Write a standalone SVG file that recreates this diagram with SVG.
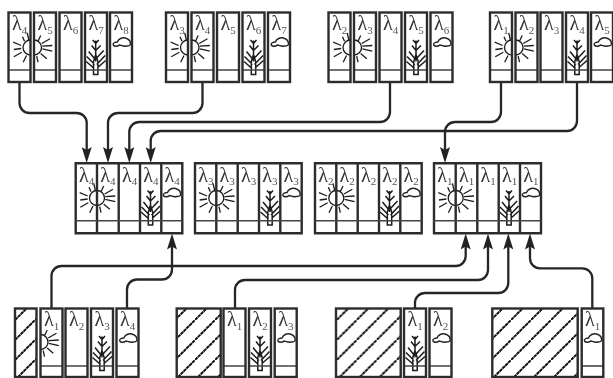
<svg xmlns="http://www.w3.org/2000/svg" width="613" height="378" viewBox="0 0 613 378">
<style>
.c{fill:none;stroke:#2c2c2c;stroke-width:2.4}
.d{fill:none;stroke:#444;stroke-width:1.6}
.i{fill:none;stroke:#1c1c1c;stroke-width:1.3}
.tr{fill:none;stroke:#1c1c1c;stroke-width:1.5}
.cl{fill:#fff;stroke:#222;stroke-width:1.4}
.k{fill:none;stroke:#262626;stroke-width:2.3;marker-end:url(#a)}
text{font-family:"Liberation Serif","Times New Roman",serif;font-size:20px;fill:#333;filter:grayscale(1)}
tspan{font-size:11px;fill:#555}
</style>
<defs>
<marker id="a" markerUnits="userSpaceOnUse" viewBox="0 0 16 10" refX="8" refY="5" markerWidth="16" markerHeight="10" orient="auto"><path d="M16,5 L0,0 L3,5 L0,10 Z" fill="#222"/></marker>
<pattern id="h" patternUnits="userSpaceOnUse" width="20" height="20"><path d="M0,20 L20,0" stroke="#111" stroke-width="2" stroke-dasharray="3.6 .44" fill="none"/></pattern>
<pattern id="h1" href="#h" patternTransform="translate(15,0)"/>
<pattern id="h2" href="#h" patternTransform="translate(15,0)"/>
<pattern id="h3" href="#h" patternTransform="translate(16.7,0)"/>
<pattern id="h4" href="#h" patternTransform="translate(11,0)"/>
<path id="sl" class="i" d="M0,-7.5A7.5,7.5 0 0 0 0,7.5M-8,-10.7L-6,-6.3M-17.3,-5.3L-9.3,-2M-16.7,2L-9.3,1M-16.7,9.3L-8.7,4.7M-7.3,14.7L-4,8M-3.3,-14.7L-1.7,-8"/>
<path id="sr" class="i" d="M0,-7.5A7.5,7.5 0 0 1 0,7.5M4,14.7L2.7,8.7M12.7,11.3L6.7,6M18.3,3.7L8.3,1.3M18.3,-2L8.3,-1.3M16,-8.7L7.7,-4M6.7,-12L4,-6.3"/>
<path id="t" class="tr" d="M0,0V21M-2.2,21V34H2.2V21M-2.2,21L0,14L2.2,21M-3,-.5L0,3M3,-.5L0,3M-4,5L0,10M5,5L0,10M-7,11L-.5,19M8,10L.5,18M-9,16L-1,24M9.5,15L1,24M-9.5,21L-1.5,28M10,20L2,27"/>
<path id="o" class="cl" d="M-8,3C-9,1-6,0-4,0C-3,-3 1,-5 4,-4C7,-3 9,-1 9,1C10,3 8,4 5,4C3,5-1,3-2,3C-4,5-7,4.5-8,3Z"/>
</defs>

<g id="connectors">
<path class="k" d="M19.5,82V103A10,10 0 0 0 29.5,113H76.7A10,10 0 0 1 86.7,123V155"/>
<path class="k" d="M202.5,82V103A10,10 0 0 1 192.5,113H118A10,10 0 0 0 108,123V155"/>
<path class="k" d="M390,82V112A10,10 0 0 1 380,122H139.3A10,10 0 0 0 129.3,132V155"/>
<path class="k" d="M577,82V121A10,10 0 0 1 567,131H160.7A10,10 0 0 0 150.7,141V155"/>
<path class="k" d="M501,82V112A10,10 0 0 1 491,122H455A10,10 0 0 0 445,132V155"/>
<path class="k" d="M51.5,308V276A10,10 0 0 1 61.5,266H455.7A10,10 0 0 0 465.7,256V241.5"/>
<path class="k" d="M127,308V289.5A10,10 0 0 1 137,279.5H162A10,10 0 0 0 172,269.5V241.5"/>
<path class="k" d="M235,308V290A10,10 0 0 1 245,280H478A10,10 0 0 0 488,270V241.5"/>
<path class="k" d="M415,308V303A10,10 0 0 1 425,293H498.3A10,10 0 0 0 508.3,283V241.5"/>
<path class="k" d="M592.3,308V278.3A10,10 0 0 0 582.3,268.3H540A10,10 0 0 1 530,258.3V241.5"/>
</g>

<g id="top1">
<use href="#sl" x="30.5" y="47.5"/><use href="#sr" x="34" y="47.5"/><use href="#t" x="95.7" y="40.5"/><use href="#o" x="121.3" y="42"/>
<path class="d" d="M8.5,70H30.5M34,70H56M59.5,70H81.5M85,70H107M110,70H132"/>
<rect class="c" x="8.5" y="12.5" width="22" height="69.5"/><rect class="c" x="34" y="12.5" width="22" height="69.5"/><rect class="c" x="59.5" y="12.5" width="22" height="69.5"/><rect class="c" x="85" y="12.5" width="22" height="69.5"/><rect class="c" x="110" y="12.5" width="22" height="69.5"/>
<text x="12" y="30">λ<tspan dy="4">4</tspan></text><text x="37.5" y="30">λ<tspan dy="4">5</tspan></text><text x="63" y="30">λ<tspan dy="4">6</tspan></text><text x="88.5" y="30">λ<tspan dy="4">7</tspan></text><text x="113.5" y="30">λ<tspan dy="4">8</tspan></text>
</g>

<g id="top2">
<use href="#sl" x="188" y="47.5"/><use href="#sr" x="191.5" y="47.5"/><use href="#t" x="253.5" y="40.5"/><use href="#o" x="279.3" y="42"/>
<path class="d" d="M166,70H188M191.5,70H213.5M217,70H239M242.5,70H264.5M268,70H290"/>
<rect class="c" x="166" y="12.5" width="22" height="69.5"/><rect class="c" x="191.5" y="12.5" width="22" height="69.5"/><rect class="c" x="217" y="12.5" width="22" height="69.5"/><rect class="c" x="242.5" y="12.5" width="22" height="69.5"/><rect class="c" x="268" y="12.5" width="22" height="69.5"/>
<text x="169.5" y="30">λ<tspan dy="4">3</tspan></text><text x="195" y="30">λ<tspan dy="4">4</tspan></text><text x="220.5" y="30">λ<tspan dy="4">5</tspan></text><text x="246" y="30">λ<tspan dy="4">6</tspan></text><text x="271.5" y="30">λ<tspan dy="4">7</tspan></text>
</g>

<g id="top3">
<use href="#sl" x="350.5" y="47.5"/><use href="#sr" x="354" y="47.5"/><use href="#t" x="416" y="40.5"/><use href="#o" x="441.8" y="42"/>
<path class="d" d="M328.5,70H350.5M354,70H376M379.5,70H401.5M405,70H427M430.5,70H452.5"/>
<rect class="c" x="328.5" y="12.5" width="22" height="69.5"/><rect class="c" x="354" y="12.5" width="22" height="69.5"/><rect class="c" x="379.5" y="12.5" width="22" height="69.5"/><rect class="c" x="405" y="12.5" width="22" height="69.5"/><rect class="c" x="430.5" y="12.5" width="22" height="69.5"/>
<text x="332" y="30">λ<tspan dy="4">2</tspan></text><text x="357.5" y="30">λ<tspan dy="4">3</tspan></text><text x="383" y="30">λ<tspan dy="4">4</tspan></text><text x="408.5" y="30">λ<tspan dy="4">5</tspan></text><text x="434" y="30">λ<tspan dy="4">6</tspan></text>
</g>

<g id="top4">
<use href="#sl" x="512" y="47.5"/><use href="#sr" x="515.5" y="47.5"/><use href="#t" x="577" y="40.5"/><use href="#o" x="602.3" y="42"/>
<path class="d" d="M490,70H512M515.5,70H537.5M540.5,70H562.5M566,70H588M591,70H613"/>
<rect class="c" x="490" y="12.5" width="22" height="69.5"/><rect class="c" x="515.5" y="12.5" width="22" height="69.5"/><rect class="c" x="540.5" y="12.5" width="22" height="69.5"/><rect class="c" x="566" y="12.5" width="22" height="69.5"/><rect class="c" x="591" y="12.5" width="22" height="69.5"/>
<text x="493.5" y="30">λ<tspan dy="4">1</tspan></text><text x="519" y="30">λ<tspan dy="4">2</tspan></text><text x="544" y="30">λ<tspan dy="4">3</tspan></text><text x="569.5" y="30">λ<tspan dy="4">4</tspan></text><text x="594.5" y="30">λ<tspan dy="4">5</tspan></text>
</g>

<g id="mid4">
<use href="#sl" x="97" y="198"/><use href="#sr" x="97" y="198"/><use href="#t" x="150.5" y="191"/><use href="#o" x="171.5" y="192.5"/>
<path class="c" d="M75.7,163.3H182.3V233.3H75.7ZM97,163.3V233.3M118.7,163.3V233.3M140,163.3V233.3M161.3,163.3V233.3"/>
<path class="d" d="M75.7,220.7H182.3"/>
<text x="79" y="181.5">λ<tspan dy="3.5">4</tspan></text><text x="100.3" y="181.5">λ<tspan dy="3.5">4</tspan></text><text x="122" y="181.5">λ<tspan dy="3.5">4</tspan></text><text x="143.3" y="181.5">λ<tspan dy="3.5">4</tspan></text><text x="164.6" y="181.5">λ<tspan dy="3.5">4</tspan></text>
</g>

<g id="mid3">
<use href="#sl" x="216.3" y="198"/><use href="#sr" x="216.3" y="198"/><use href="#t" x="270" y="191"/><use href="#o" x="291" y="192.5"/>
<path class="c" d="M195,163.3H301.7V233.3H195ZM216.3,163.3V233.3M237.7,163.3V233.3M259,163.3V233.3M280.3,163.3V233.3"/>
<path class="d" d="M195,220.7H301.7"/>
<text x="198.3" y="181.5">λ<tspan dy="3.5">3</tspan></text><text x="219.6" y="181.5">λ<tspan dy="3.5">3</tspan></text><text x="241" y="181.5">λ<tspan dy="3.5">3</tspan></text><text x="262.3" y="181.5">λ<tspan dy="3.5">3</tspan></text><text x="283.6" y="181.5">λ<tspan dy="3.5">3</tspan></text>
</g>

<g id="mid2">
<use href="#sl" x="336.3" y="198"/><use href="#sr" x="336.3" y="198"/><use href="#t" x="389.5" y="191"/><use href="#o" x="411" y="192.5"/>
<path class="c" d="M315,163.3H421.7V233.3H315ZM336.3,163.3V233.3M357.7,163.3V233.3M379,163.3V233.3M400.3,163.3V233.3"/>
<path class="d" d="M315,220.7H421.7"/>
<text x="318.3" y="181.5">λ<tspan dy="3.5">2</tspan></text><text x="339.6" y="181.5">λ<tspan dy="3.5">2</tspan></text><text x="361" y="181.5">λ<tspan dy="3.5">2</tspan></text><text x="382.3" y="181.5">λ<tspan dy="3.5">2</tspan></text><text x="403.6" y="181.5">λ<tspan dy="3.5">2</tspan></text>
</g>

<g id="mid1">
<use href="#sl" x="455.7" y="198"/><use href="#sr" x="455.7" y="198"/><use href="#t" x="509" y="191"/><use href="#o" x="530.5" y="192.5"/>
<path class="c" d="M434,163.3H541V233.3H434ZM455.7,163.3V233.3M477.3,163.3V233.3M498.7,163.3V233.3M520,163.3V233.3"/>
<path class="d" d="M434,220.7H541"/>
<text x="437.3" y="181.5">λ<tspan dy="3.5">1</tspan></text><text x="459" y="181.5">λ<tspan dy="3.5">1</tspan></text><text x="480.6" y="181.5">λ<tspan dy="3.5">1</tspan></text><text x="502" y="181.5">λ<tspan dy="3.5">1</tspan></text><text x="523.3" y="181.5">λ<tspan dy="3.5">1</tspan></text>
</g>

<g id="bottom1">
<rect x="15" y="308.5" width="21.5" height="68.5" fill="url(#h1)"/>
<use href="#sr" x="40.5" y="342"/><use href="#t" x="102" y="336.5"/><use href="#o" x="127.8" y="338"/>
<path class="d" d="M40.5,366H62.5M65.5,366H87.5M91,366H113M116.5,366H138.5"/>
<rect class="c" x="15" y="308.5" width="21.5" height="68.5"/><rect class="c" x="40.5" y="308.5" width="22" height="68.5"/><rect class="c" x="65.5" y="308.5" width="22" height="68.5"/><rect class="c" x="91" y="308.5" width="22" height="68.5"/><rect class="c" x="116.5" y="308.5" width="22" height="68.5"/>
<text x="44" y="326">λ<tspan dy="4">1</tspan></text><text x="69" y="326">λ<tspan dy="4">2</tspan></text><text x="94.5" y="326">λ<tspan dy="4">3</tspan></text><text x="120" y="326">λ<tspan dy="4">4</tspan></text>
</g>

<g id="bottom2">
<rect x="176.7" y="308.5" width="44" height="68.5" fill="url(#h2)"/>
<use href="#t" x="260" y="336.5"/><use href="#o" x="286" y="338"/>
<path class="d" d="M223.5,366H245.5M249,366H271M274.7,366H297"/>
<rect class="c" x="176.7" y="308.5" width="44" height="68.5"/><rect class="c" x="223.5" y="308.5" width="22" height="68.5"/><rect class="c" x="249" y="308.5" width="22" height="68.5"/><rect class="c" x="274.7" y="308.5" width="22" height="68.5"/>
<text x="227" y="326">λ<tspan dy="4">1</tspan></text><text x="252.5" y="326">λ<tspan dy="4">2</tspan></text><text x="278.2" y="326">λ<tspan dy="4">3</tspan></text>
</g>

<g id="bottom3">
<rect x="336" y="308.5" width="64.7" height="68.5" fill="url(#h3)"/>
<use href="#t" x="415" y="336.5"/><use href="#o" x="441" y="338"/>
<path class="d" d="M404,366H426M429.5,366H451.5"/>
<rect class="c" x="336" y="308.5" width="64.7" height="68.5"/><rect class="c" x="404" y="308.5" width="22" height="68.5"/><rect class="c" x="429.5" y="308.5" width="22" height="68.5"/>
<text x="407.5" y="326">λ<tspan dy="4">1</tspan></text><text x="433" y="326">λ<tspan dy="4">2</tspan></text>
</g>

<g id="bottom4">
<rect x="492.3" y="308.5" width="85.4" height="68.5" fill="url(#h4)"/>
<use href="#o" x="592.5" y="338"/>
<path class="d" d="M581.7,366H603"/>
<rect class="c" x="492.3" y="308.5" width="85.4" height="68.5"/><rect class="c" x="581.7" y="308.5" width="21.6" height="68.5"/>
<text x="585" y="326">λ<tspan dy="4">1</tspan></text>
</g>
</svg>
